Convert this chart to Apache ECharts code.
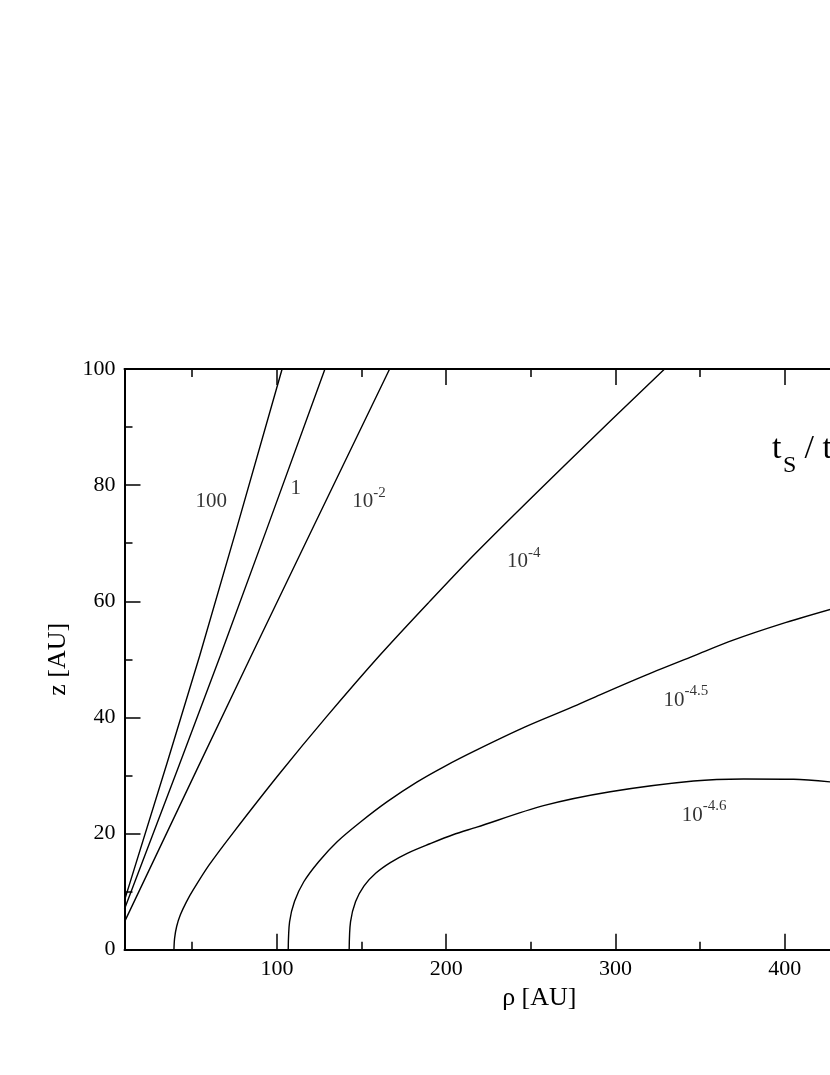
<!DOCTYPE html>
<html>
<head>
<meta charset="utf-8">
<script src="https://cdn.jsdelivr.net/npm/echarts@6/dist/echarts.min.js"></script>
<style>
html,body{margin:0;padding:0;background:#fff;}
#chart{width:830px;height:1075px;}
</style>
</head>
<body>
<div id="chart"></div>
<script>
// ---- data (rho [AU], z [AU]) ----
var curve100 = [[10,8.5],[54.5,50.7],[103.1,100]];
var curve1 = [[10,7.0],[66.7,50.7],[128.4,100]];
var curveM2 = [[10,4.8],[85,50.7],[166.6,100]];
var curveM4 = [[39.2,0],[39.6,2],[40.8,4],[43,6],[46.5,8.2],[51,10.5],[60,14.6],[74.6,20.3],[101.5,30.3],[129,40],[160.8,50.7],[190,59.9],[218.1,68.5],[272,84],[329,100]];
var curveM45 = [[106.7,0],[107.5,4.8],[110.4,8.3],[115.9,11.7],[124.8,15.2],[135.6,18.6],[149.4,22.0],[165.2,25.5],[182.9,28.9],[198.6,31.5],[218.1,34.4],[247,38.4],[277.2,42.1],[290.8,43.9],[318,47.3],[347,50.7],[369.5,53.3],[398,56.1],[427,58.6]];
var curveM46 = [[142.7,0],[143.5,4.8],[146.5,8.3],[151.5,11.0],[158.5,13.2],[167,15.0],[177,16.6],[190,18.2],[204,19.8],[218.1,21.1],[257.5,24.8],[296.9,27.2],[346.1,29.05],[375.7,29.4],[405.2,29.35],[427,28.9]];

var contourLabelPos = [[52.0,76.0],[108.1,78.3],[144.5,76.0],[235.9,65.7],[328.4,41.8],[339.2,22.0]];
var contourLabelBase = ['100','1','10','10','10','10'];
var contourLabelExp = ['','','-2','-4','-4.5','-4.6'];

var xMajorTicks = [100,200,300,400,500];
var xMinorTicks = [50,150,250,350,450];
var xMin = 10, xMax = 500;
var yMin = 0, yMax = 100, yStep = 20;

// ---- chart ----
var FONT = 'Liberation Serif';
var chart = echarts.init(document.getElementById('chart'), null, {renderer:'canvas'});

function lineSeries(data){
  return {type:'line', xAxisIndex:0, yAxisIndex:0, data:data, showSymbol:false, symbol:'none',
          smooth:0.3, lineStyle:{color:'#000', width:1.4}, silent:true, animation:false, clip:true};
}

var gridBox = {left:124.5, top:369, width:829.6, height:580.7, containLabel:false, outerBoundsMode:'none'};

var option = {
  backgroundColor:'#fff',
  animation:false,
  grid:[
    Object.assign({}, gridBox),
    Object.assign({}, gridBox)
  ],
  xAxis:[
    {gridIndex:0, type:'value', position:'bottom', min:xMin, max:xMax,
     name:'ρ [AU]', nameLocation:'middle', nameGap:35,
     nameTextStyle:{fontFamily:FONT, fontSize:26, color:'#000'},
     axisLine:{show:true, onZero:false, lineStyle:{color:'#000', width:2}},
     axisTick:{show:true, inside:true, length:16, customValues:xMajorTicks, lineStyle:{color:'#000', width:1.5}},
     axisLabel:{show:true, customValues:xMajorTicks, fontFamily:FONT, fontSize:22, color:'#000', margin:9},
     splitLine:{show:false}},
    {gridIndex:0, type:'value', position:'top', min:xMin, max:xMax,
     axisLine:{show:true, onZero:false, lineStyle:{color:'#000', width:2}},
     axisTick:{show:true, inside:true, length:16, customValues:xMajorTicks, lineStyle:{color:'#000', width:1.5}},
     axisLabel:{show:false},
     splitLine:{show:false}},
    {gridIndex:1, type:'value', position:'bottom', min:xMin, max:xMax,
     axisLine:{show:false},
     axisTick:{show:true, inside:true, length:8, customValues:xMinorTicks, lineStyle:{color:'#000', width:1.5}},
     axisLabel:{show:false}, splitLine:{show:false}},
    {gridIndex:1, type:'value', position:'top', min:xMin, max:xMax,
     axisLine:{show:false},
     axisTick:{show:true, inside:true, length:8, customValues:xMinorTicks, lineStyle:{color:'#000', width:1.5}},
     axisLabel:{show:false}, splitLine:{show:false}}
  ],
  yAxis:[
    {gridIndex:0, type:'value', position:'left', min:yMin, max:yMax, interval:yStep,
     name:'z [AU]', nameLocation:'middle', nameGap:33, nameRotate:90,
     nameTextStyle:{fontFamily:FONT, fontSize:26, color:'#000'},
     axisLine:{show:true, onZero:false, lineStyle:{color:'#000', width:2}},
     axisTick:{show:true, inside:true, length:16, lineStyle:{color:'#000', width:1.5}},
     minorTick:{show:true, splitNumber:2, length:8, lineStyle:{color:'#000', width:1.5}},
     axisLabel:{show:true, fontFamily:FONT, fontSize:22, color:'#000', margin:9},
     splitLine:{show:false}, minorSplitLine:{show:false}},
    {gridIndex:1, type:'value', min:yMin, max:yMax, show:false}
  ],
  graphic:[
    {type:'text', x:772, y:466, style:{text:'t', font:'34px "Liberation Serif"', fill:'#000', verticalAlign:'bottom'}},
    {type:'text', x:783, y:478, style:{text:'S', font:'24px "Liberation Serif"', fill:'#000', verticalAlign:'bottom'}},
    {type:'text', x:796, y:466, style:{text:' / t', font:'34px "Liberation Serif"', fill:'#000', verticalAlign:'bottom'}}
  ],
  series:[
    lineSeries(curve100),
    lineSeries(curve1),
    lineSeries(curveM2),
    lineSeries(curveM4),
    lineSeries(curveM45),
    lineSeries(curveM46),
    {type:'scatter', xAxisIndex:0, yAxisIndex:0, symbolSize:0, silent:true, animation:false,
     data:contourLabelPos,
     label:{show:true, position:[0,0], align:'left', verticalAlign:'bottom', offset:[0,4],
       formatter:function(p){
         var i = p.dataIndex;
         var s = '{b|' + contourLabelBase[i] + '}';
         if (contourLabelExp[i]) s += '{s|' + contourLabelExp[i] + '}';
         return s;
       },
       rich:{
         b:{fontFamily:FONT, fontSize:21, color:'#000', lineHeight:27, verticalAlign:'bottom'},
         s:{fontFamily:FONT, fontSize:15, color:'#000', lineHeight:27, verticalAlign:'top'}
       }}
    }
  ]
};
chart.setOption(option);
</script>
</body>
</html>
